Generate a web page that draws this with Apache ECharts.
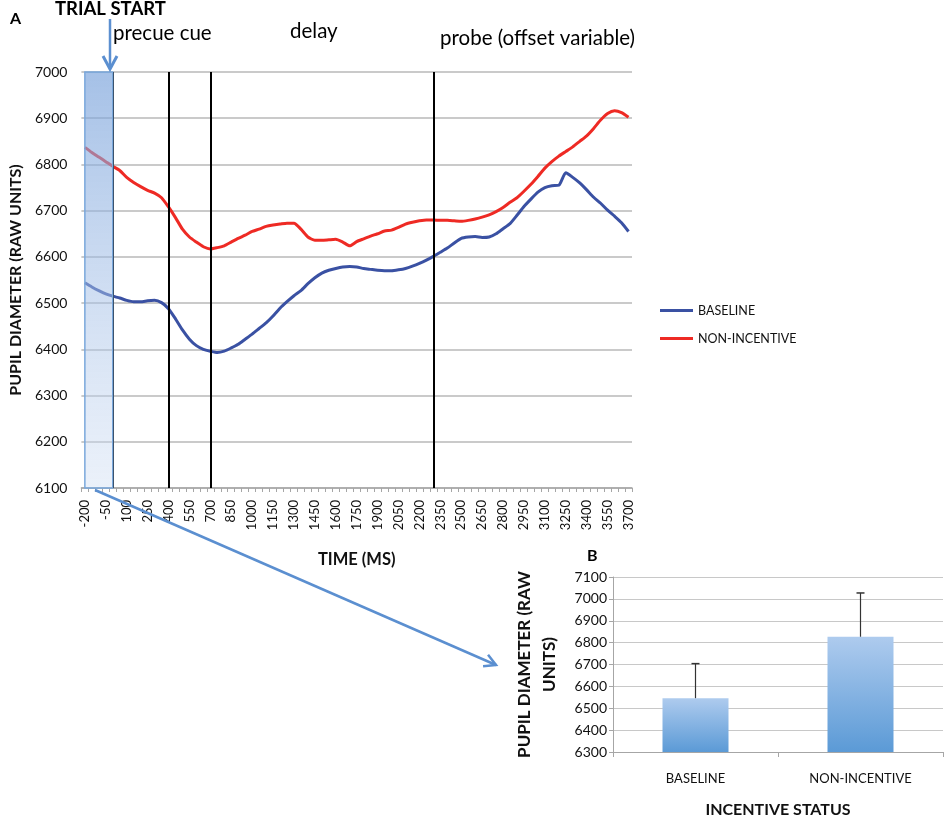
<!DOCTYPE html>
<html><head><meta charset="utf-8">
<script src="https://cdn.jsdelivr.net/npm/echarts@6/dist/echarts.min.js"></script>
<style>html,body{margin:0;padding:0;background:#fff}#c{width:946px;height:820px}</style>
</head><body><div id="c"></div>
<script>
// ---- Panel A data ----
const timeMs = ['-200','-150','-100','-50','0','50','100','150','200','250','300','350','400','450','500','550','600','650','700','750','800','850','900','950','1000','1050','1100','1150','1200','1250','1300','1350','1400','1450','1500','1550','1600','1650','1700','1750','1800','1850','1900','1950','2000','2050','2100','2150','2200','2250','2300','2350','2400','2450','2500','2550','2600','2650','2700','2750','2800','2850','2900','2950','3000','3050','3100','3150','3200','3250','3300','3350','3400','3450','3500','3550','3600','3650','3700'];
const baseline = [6544,6535,6527,6520,6515,6511,6506,6503,6503,6505,6506,6501,6488,6466,6442,6422,6408,6400,6396,6393,6396,6403,6411,6422,6433,6445,6457,6472,6489,6503,6516,6527,6542,6555,6565,6571,6575,6578,6579,6578,6575,6573,6571,6570,6570,6572,6575,6580,6586,6593,6601,6610,6619,6630,6640,6643,6644,6642,6643,6650,6661,6672,6690,6709,6725,6740,6750,6754,6755,6782,6772,6760,6745,6729,6716,6701,6688,6674,6655];
const nonIncentive = [6837,6826,6816,6806,6796,6787,6772,6761,6752,6744,6738,6728,6708,6685,6660,6643,6632,6622,6617,6620,6624,6632,6640,6647,6655,6660,6666,6669,6671,6673,6673,6660,6643,6636,6636,6637,6638,6632,6624,6633,6639,6645,6650,6656,6658,6664,6671,6675,6678,6680,6680,6679,6679,6678,6677,6679,6682,6686,6691,6698,6707,6718,6728,6742,6757,6774,6792,6806,6818,6828,6838,6850,6862,6878,6896,6910,6916,6912,6902];
const eventTimes = ['0','400','700','2300'];
const trialWindow = ['-200','0'];
const yTicksA = {min:6100, max:7000, step:100};
// ---- Panel B data ----
const statusCats = ['BASELINE','NON-INCENTIVE'];
const statusMeans = [6546, 6827];
const statusErrTop = [6704, 7027];
const yTicksB = {min:6300, max:7100, step:100};

const FONT = 'Lato, "Liberation Sans", sans-serif';
const chart = echarts.init(document.getElementById('c'), null, {renderer:'canvas'});
const plain = v => String(v);

// long arrow geometry (annotation)
const a0 = [95, 490], a1 = [496, 665];
const ang = Math.atan2(a1[1]-a0[1], a1[0]-a0[0]);
const hl = 13, ha = 0.5;
const head = [
  [a1[0]-hl*Math.cos(ang-ha), a1[1]-hl*Math.sin(ang-ha)],
  a1,
  [a1[0]-hl*Math.cos(ang+ha), a1[1]-hl*Math.sin(ang+ha)]
];

const option = {
  animation:false,
  textStyle:{fontFamily:FONT},
  grid:[
    {left:76, top:72, width:556, height:416},
    {left:613, top:577, width:330, height:175}
  ],
  legend:{
    data:['BASELINE','NON-INCENTIVE'], orient:'vertical', left:655, top:299,
    itemWidth:33, itemHeight:3, itemGap:15, icon:'rect',
    textStyle:{fontSize:12.5, color:'#111', fontFamily:FONT}
  },
  xAxis:[
    {type:'category', gridIndex:0, data:timeMs, boundaryGap:true,
     axisLine:{lineStyle:{color:'#a6a6a6', width:1.5}},
     axisTick:{show:true, interval:0, length:4, lineStyle:{color:'#a6a6a6'}},
     axisLabel:{interval:2, rotate:90, fontSize:13, color:'#111', margin:12},
     name:'TIME (MS)', nameLocation:'middle', nameGap:63,
     nameTextStyle:{fontWeight:'bold', fontSize:16.5, color:'#111'}},
    {type:'category', gridIndex:1, data:statusCats,
     axisLine:{lineStyle:{color:'#a6a6a6'}},
     axisTick:{show:true, length:5, lineStyle:{color:'#a6a6a6'}},
     axisLabel:{fontSize:13, color:'#111', margin:20},
     name:'INCENTIVE STATUS', nameLocation:'middle', nameGap:50,
     nameTextStyle:{fontWeight:'bold', fontSize:16, color:'#111'}}
  ],
  yAxis:[
    {type:'value', gridIndex:0, min:yTicksA.min, max:yTicksA.max, interval:yTicksA.step,
     axisLine:{show:false}, axisTick:{show:false},
     axisLabel:{fontSize:14, color:'#111', margin:14, formatter:plain},
     splitLine:{lineStyle:{color:'#b8b8b8', width:1.5}},
     name:'PUPIL DIAMETER (RAW UNITS)', nameLocation:'middle', nameGap:57,
     nameTextStyle:{fontWeight:'bold', fontSize:16, color:'#111'}},
    {type:'value', gridIndex:1, min:yTicksB.min, max:yTicksB.max, interval:yTicksB.step,
     axisLine:{show:true, lineStyle:{color:'#a6a6a6'}},
     axisTick:{show:true, length:4, lineStyle:{color:'#a6a6a6'}},
     axisLabel:{fontSize:14, color:'#111', margin:6, formatter:plain},
     splitLine:{lineStyle:{color:'#c8c8c8', width:1}},
     name:'PUPIL DIAMETER (RAW\nUNITS)', nameLocation:'middle', nameGap:51,
     nameTextStyle:{fontWeight:'bold', fontSize:17, color:'#111', lineHeight:25, align:'center'}}
  ],
  series:[
    {name:'BASELINE', type:'line', xAxisIndex:0, yAxisIndex:0, data:baseline,
     symbol:'none', smooth:0.2, z:2, color:'#3a51a3', lineStyle:{color:'#3a51a3', width:3}},
    {name:'NON-INCENTIVE', type:'line', xAxisIndex:0, yAxisIndex:0, data:nonIncentive,
     symbol:'none', smooth:0.2, z:2, color:'#ee2a24', lineStyle:{color:'#ee2a24', width:3},
     markLine:{silent:true, symbol:'none', label:{show:false}, z:3,
       lineStyle:{color:'#000', width:2, type:'solid'},
       data:eventTimes.map(t=>({xAxis:t}))}},
    {name:'trial', type:'line', xAxisIndex:0, yAxisIndex:0, data:[], z:10, silent:true,
     markArea:{silent:true, z:10,
       itemStyle:{color:{type:'linear',x:0,y:0,x2:0,y2:1,colorStops:[
         {offset:0,color:'rgba(118,160,218,0.66)'},{offset:1,color:'rgba(205,220,242,0.4)'}]},
         borderColor:'#7aa8dc', borderWidth:1.5},
       data:[[{xAxis:trialWindow[0], yAxis:yTicksA.max},{xAxis:trialWindow[1], yAxis:yTicksA.min}]]}},
    {name:'means', type:'bar', xAxisIndex:1, yAxisIndex:1, data:statusMeans, barWidth:66,
     itemStyle:{color:{type:'linear',x:0,y:0,x2:0,y2:1,colorStops:[
       {offset:0,color:'#aecbee'},{offset:1,color:'#5b9ad6'}]}}},
    {name:'err', type:'custom', xAxisIndex:1, yAxisIndex:1, z:4,
     data:statusMeans.map((m,i)=>[i, m, statusErrTop[i]]),
     encode:{x:0, y:[1,2]},
     renderItem:function(params, api){
       const x = api.value(0);
       const p1 = api.coord([x, api.value(1)]);
       const p2 = api.coord([x, api.value(2)]);
       return {type:'group', children:[
         {type:'line', shape:{x1:p1[0],y1:p1[1],x2:p2[0],y2:p2[1]}, style:{stroke:'#333',lineWidth:1.2}},
         {type:'line', shape:{x1:p2[0]-4,y1:p2[1],x2:p2[0]+4,y2:p2[1]}, style:{stroke:'#333',lineWidth:1.5}}
       ]};
     }}
  ],
  graphic:[
    {type:'text', left:10, top:11, style:{text:'A', font:'bold 16px '+FONT, fill:'#000'}},
    {type:'text', left:55, top:0, style:{text:'TRIAL START', font:'bold 18.5px '+FONT, fill:'#000'}},
    {type:'text', left:113, top:23, style:{text:'precue cue', font:'20.5px '+FONT, fill:'#000'}},
    {type:'text', left:290, top:21, style:{text:'delay', font:'20.5px '+FONT, fill:'#000'}},
    {type:'text', left:440, top:28, style:{text:'probe (offset variable)', font:'20.5px '+FONT, fill:'#000'}},
    {type:'text', left:587, top:548, style:{text:'B', font:'bold 16px '+FONT, fill:'#000'}},
    {type:'line', z:20, shape:{x1:110,y1:19,x2:110,y2:68}, style:{stroke:'#5b8fd0', lineWidth:2.5}},
    {type:'polyline', z:20, shape:{points:[[103,56],[110,69],[117,56]]}, style:{stroke:'#5b8fd0', lineWidth:3, fill:null}},
    {type:'line', z:20, shape:{x1:a0[0],y1:a0[1],x2:a1[0],y2:a1[1]}, style:{stroke:'#5b8fd0', lineWidth:2.5}},
    {type:'polyline', z:20, shape:{points:head}, style:{stroke:'#5b8fd0', lineWidth:2.5, fill:null}}
  ]
};
chart.setOption(option);
</script></body></html>
